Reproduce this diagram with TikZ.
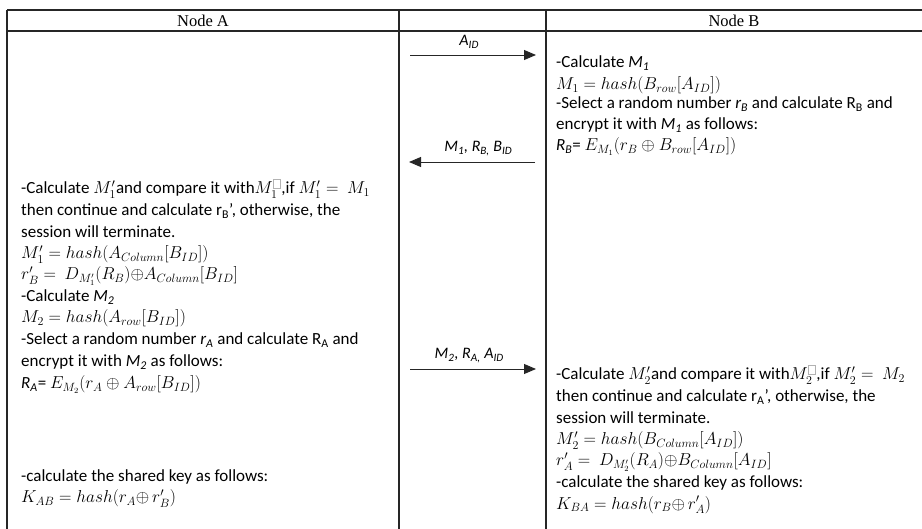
\documentclass[tikz,border=0pt]{standalone}
\usepackage{fontspec}
\setmainfont{Carlito}
\newfontfamily\timesfont{Liberation Serif}
\usetikzlibrary{arrows.meta}
\newcommand{\brokenimg}{{\color{gray!60}\fboxsep=0pt\fboxrule=0.5pt\fbox{\phantom{\rule{7pt}{8pt}}}}}
\newcommand{\sbt}[1]{\textsubscript{#1}}
\tikzset{
  tline/.style={line width=1.1pt, draw=black!85},
  hline/.style={line width=1.4pt, draw=black!85},
  txt/.style={anchor=base west, inner sep=0pt, font=\fontsize{17}{20}\selectfont},
  head/.style={inner sep=0pt, font=\timesfont\fontsize{16.5}{19}\selectfont},
  msg/.style={line width=0.9pt, draw=black!85, -{Triangle[length=12pt,width=10pt]}},
  msglabel/.style={inner sep=0pt, font=\itshape\fontsize{16}{18}\selectfont}
}
\begin{document}
\begin{tikzpicture}[x=1pt,y=-1pt]
\useasboundingbox (0,0) rectangle (922,529);
% table frame
\coordinate (tl) at (7,10);
\coordinate (tr) at (922,10);
\coordinate (hl) at (7,31);
\coordinate (hr) at (922,31);
\coordinate (c1t) at (399,10);
\coordinate (c1b) at (399,529);
\coordinate (c2t) at (546,10);
\coordinate (c2b) at (546,529);
\coordinate (lb) at (7,529);
\draw[hline] (tl) -- (tr);
\draw[hline] (hl) -- (hr);
\draw[tline] (tl) -- (lb);
\draw[tline] (c1t) -- (c1b);
\draw[tline] (c2t) -- (c2b);
% headers
\node[head] (hA) at (203,21) {Node A};
\node[head] (hB) at (734,21) {Node B};
% arrows
\coordinate (a1s) at (410,55);
\coordinate (a1e) at (536,55);
\draw[msg] (a1s) -- (a1e) node[msglabel, pos=0.47, above=6pt] (m1) {A\sbt{ID}};
\coordinate (a2s) at (535,162);
\coordinate (a2e) at (409,162);
\draw[msg] (a2s) -- (a2e) node[msglabel, pos=0.45, above=6pt] (m2) {M\sbt{1}, R\sbt{B,} B\sbt{ID}};
\coordinate (a3s) at (410,369);
\coordinate (a3e) at (536,369);
\draw[msg] (a3s) -- (a3e) node[msglabel, pos=0.47, above=6pt] (m3) {M\sbt{2}, R\sbt{A,} A\sbt{ID}};
% Node B first block
\node[txt] (r1) at (556,68) {-Calculate \textit{M\sbt{1}}};
\node[txt] (r2) at (556,90) {$M_1 = hash(B_{row}[A_{ID}])$};
\node[txt] (r3) at (556,109) {-Select a random number \textit{r\sbt{B}} and calculate R\sbt{B} and};
\node[txt] (r4) at (556,130) {encrypt it with \textit{M\sbt{1}} as follows:};
\node[txt] (r5) at (556,151) {\textit{R\sbt{B}}= $E_{M_1}(r_B \oplus B_{row}[A_{ID}])$};
% Node A block
\node[txt] (l1) at (21,194) {-Calculate $M_1'$and compare it with$M_1^{\mbox{\brokenimg}}$,if $M_1' = \ M_1$};
\node[txt] (l2) at (21,216) {then continue and calculate r\sbt{B}’, otherwise, the};
\node[txt] (l3) at (21,238) {session will terminate.};
\node[txt] (l4) at (21,259) {$M_1' = hash(A_{Column}[B_{ID}])$};
\node[txt] (l5) at (21,280) {$r_B' = \ D_{M_1'}(R_B){\oplus} A_{Column}[B_{ID}]$};
\node[txt] (l6) at (21,302) {-Calculate \textit{M\sbt{2}}};
\node[txt] (l7) at (21,323) {$M_2 = hash(A_{row}[B_{ID}])$};
\node[txt] (l8) at (21,345) {-Select a random number \textit{r\sbt{A}} and calculate R\sbt{A} and};
\node[txt] (l9) at (21,367) {encrypt it with \textit{M\sbt{2}} as follows:};
\node[txt] (l10) at (21,389) {\textit{R\sbt{A}}= $E_{M_2}(r_A \oplus A_{row}[B_{ID}])$};
\node[txt] (l11) at (21,482) {-calculate the shared key as follows:};
\node[txt] (l12) at (21,503) {$K_{AB} = hash(r_A{\oplus}\, r_B')$};
% Node B second block
\node[txt] (s1) at (556,380) {-Calculate $M_2'$and compare it with$M_2^{\mbox{\brokenimg}}$,if $M_2' = \ M_2$};
\node[txt] (s2) at (556,402) {then continue and calculate r\sbt{A}’, otherwise, the};
\node[txt] (s3) at (556,424) {session will terminate.};
\node[txt] (s4) at (556,445) {$M_2' = hash(B_{Column}[A_{ID}])$};
\node[txt] (s5) at (556,466) {$r_A' = \ D_{M_2'}(R_A){\oplus} B_{Column}[A_{ID}]$};
\node[txt] (s6) at (556,488) {-calculate the shared key as follows:};
\node[txt] (s7) at (556,509) {$K_{BA} = hash(r_B{\oplus}\, r_A')$};
\end{tikzpicture}
\end{document}
